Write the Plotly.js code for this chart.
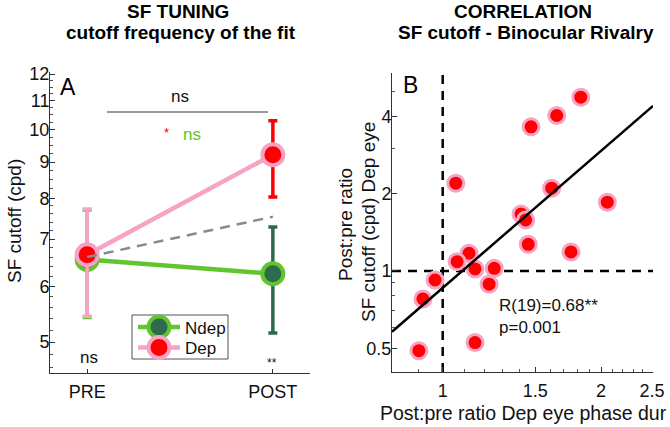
<!DOCTYPE html>
<html>
<head>
<meta charset="utf-8">
<script src="https://cdn.plot.ly/plotly-3.0.1.min.js"></script>
<style>html,body{margin:0;padding:0;background:#fff;}#chart{width:670px;height:427px;}</style>
</head>
<body>
<div id="chart"></div>
<script>
// ---------- DATA ----------
const conditions = ['PRE', 'POST'];
const condPos = [1, 2];
const depMean = [6.65, 9.22];
const depUpper = [7.72, 10.3];
const depLower = [5.44, 8.03];
const ndepMean = [6.55, 6.25];
const ndepUpper = [7.70, 7.28];
const ndepLower = [5.42, 5.15];
const predicted = [6.6, 7.53];

const leftYTicks = [5, 6, 7, 8, 9, 10, 11, 12];

const ratioPhaseDur = [1.83, 1.647, 1.472, 1.059, 1.611, 2.055, 1.409, 1.438, 1.454, 1.753,
                       1.122, 1.065, 1.152, 1.253, 0.967, 1.225, 0.917, 0.901, 1.152];
const ratioCutoff =   [4.75, 4.03, 3.64, 2.196, 2.10, 1.852, 1.667, 1.58, 1.27, 1.186,
                       1.172, 1.087, 1.018, 1.024, 0.922, 0.888, 0.778, 0.489, 0.526];
const fitX = [0.801, 2.51];
const fitY = [0.58, 4.39];
const rightXTicks = [1, 1.5, 2, 2.5];
const rightYTicks = [0.5, 1, 2, 4];
const legendNames = ['Ndep', 'Dep'];

// ---------- HELPERS ----------
const W = 670, H = 427;
const px = x => x / W;
const py = y => 1 - y / H;
const FONT = 'Liberation Sans, Arial, Helvetica, sans-serif';
const PINK = '#f6a3c6', RED = '#ff0000', GREEN = '#62c42e', DKGREEN = '#2e6a4d';

function minorRange(a, b, step) {
  const out = [];
  for (let v = a; v <= b + 1e-9; v += step) out.push(+v.toFixed(3));
  return out;
}
const leftMinor = minorRange(4.6, 8, 0.2).concat(minorRange(8.25, 11.75, 0.25)).filter(v => !leftYTicks.includes(v));
const rightXMinor = [0.9].concat(minorRange(1.1, 2.4, 0.1)).filter(v => !rightXTicks.some(t => Math.abs(t - v) < 1e-6));
const rightYMinor = [0.6, 0.7, 0.8, 0.9, 3, 5];

function errTrace(i, mean, up, lo, color) {
  return {
    x: [condPos[i]], y: [mean[i]], type: 'scatter', mode: 'markers',
    marker: {size: 1, opacity: 0}, showlegend: false, hoverinfo: 'skip',
    xaxis: 'x', yaxis: 'y',
    error_y: {type: 'data', symmetric: false, array: [up[i] - mean[i]], arrayminus: [mean[i] - lo[i]],
              color: color, thickness: 3.5, width: 4.5}
  };
}

const traces = [
  errTrace(0, ndepMean, ndepUpper, ndepLower, GREEN),
  errTrace(1, ndepMean, ndepUpper, ndepLower, DKGREEN),
  {
    x: condPos, y: ndepMean, type: 'scatter', mode: 'lines+markers', name: legendNames[0],
    line: {color: GREEN, width: 4.5}, showlegend: false,
    marker: {size: 21, color: DKGREEN, line: {color: GREEN, width: 4}},
    xaxis: 'x', yaxis: 'y'
  },
  errTrace(0, depMean, depUpper, depLower, PINK),
  errTrace(1, depMean, depUpper, depLower, RED),
  {
    x: condPos, y: depMean, type: 'scatter', mode: 'lines+markers', name: legendNames[1],
    line: {color: PINK, width: 4.5}, showlegend: false,
    marker: {size: 21, color: RED, line: {color: PINK, width: 4}},
    xaxis: 'x', yaxis: 'y'
  },
  {
    x: condPos, y: predicted, type: 'scatter', mode: 'lines', showlegend: false,
    line: {color: '#8a8a8a', width: 2.5, dash: '10px,7px'}, xaxis: 'x', yaxis: 'y'
  },
  // right panel
  {
    x: [1, 1], y: [0.404, 5.9], type: 'scatter', mode: 'lines', showlegend: false,
    line: {color: '#000', width: 2.5, dash: '9px,7px'}, xaxis: 'x2', yaxis: 'y2'
  },
  {
    x: [0.801, 2.51], y: [1, 1], type: 'scatter', mode: 'lines', showlegend: false,
    line: {color: '#000', width: 2.5, dash: '9px,7px'}, xaxis: 'x2', yaxis: 'y2'
  },
  {
    x: ratioPhaseDur, y: ratioCutoff, type: 'scatter', mode: 'markers', showlegend: false,
    marker: {size: 16, color: RED, line: {color: PINK, width: 3}}, xaxis: 'x2', yaxis: 'y2'
  },
  {
    x: fitX, y: fitY, type: 'scatter', mode: 'lines', showlegend: false,
    line: {color: '#000', width: 2.5}, xaxis: 'x2', yaxis: 'y2'
  }
];

const axCommon = {
  showline: true, linecolor: '#333', linewidth: 1, ticks: 'inside', ticklen: 5,
  tickcolor: '#333', tickwidth: 1, showgrid: false, zeroline: false,
  tickfont: {family: FONT, size: 18, color: '#111'}
};

function ann(text, x, y, opts) {
  return Object.assign({
    text: text, xref: 'paper', yref: 'paper', x: px(x), y: py(y),
    showarrow: false, xanchor: 'center', yanchor: 'middle',
    font: {family: FONT, size: 17, color: '#111'}
  }, opts || {});
}

// manual legend (box, line swatches, markers, labels)
const legendShapes = [
  {type: 'rect', xref: 'paper', yref: 'paper', x0: px(132), x1: px(228), y0: py(359), y1: py(315),
   fillcolor: '#fff', line: {color: '#555', width: 1}, layer: 'above'},
  {type: 'line', xref: 'paper', yref: 'paper', x0: px(138), x1: px(180), y0: py(327), y1: py(327),
   line: {color: GREEN, width: 4.5}, layer: 'above'},
  {type: 'circle', xref: 'paper', yref: 'paper', x0: px(148.5), x1: px(169.5), y0: py(337.5), y1: py(316.5),
   fillcolor: DKGREEN, line: {color: GREEN, width: 4}, layer: 'above'},
  {type: 'line', xref: 'paper', yref: 'paper', x0: px(138), x1: px(180), y0: py(347.5), y1: py(347.5),
   line: {color: PINK, width: 4.5}, layer: 'above'},
  {type: 'circle', xref: 'paper', yref: 'paper', x0: px(148.5), x1: px(169.5), y0: py(358), y1: py(337),
   fillcolor: RED, line: {color: PINK, width: 4}, layer: 'above'}
];

const layout = {
  width: W, height: H, margin: {l: 0, r: 0, t: 0, b: 0},
  paper_bgcolor: '#fff', plot_bgcolor: 'rgba(0,0,0,0)',
  showlegend: false,
  xaxis: Object.assign({}, axCommon, {
    domain: [px(50), px(310)], range: [0.8, 2.2], anchor: 'y',
    tickmode: 'array', tickvals: condPos, ticktext: conditions, ticklen: 4, ticklabelstandoff: 2
  }),
  yaxis: Object.assign({}, axCommon, {
    domain: [py(373), py(72)], type: 'log', anchor: 'x',
    range: [Math.log10(4.52), Math.log10(12.08)], ticklabelstandoff: -4,
    tickmode: 'array', tickvals: leftYTicks, ticktext: leftYTicks.map(String),
    minor: {tickmode: 'array', tickvals: leftMinor, ticklen: 3, ticks: 'inside', tickcolor: '#555'}
  }),
  xaxis2: Object.assign({}, axCommon, {
    domain: [px(392), px(653)], type: 'log', anchor: 'y2',
    range: [Math.log10(0.801), Math.log10(2.51)], ticklabelstandoff: 2,
    tickmode: 'array', tickvals: rightXTicks, ticktext: rightXTicks.map(String),
    minor: {tickmode: 'array', tickvals: rightXMinor, ticklen: 3, ticks: 'inside', tickcolor: '#555'}
  }),
  yaxis2: Object.assign({}, axCommon, {
    domain: [py(372), py(73)], type: 'log', anchor: 'x2',
    range: [Math.log10(0.404), Math.log10(5.9)], ticklabelstandoff: -4,
    tickmode: 'array', tickvals: rightYTicks, ticktext: rightYTicks.map(String),
    minor: {tickmode: 'array', tickvals: rightYMinor, ticklen: 3, ticks: 'inside', tickcolor: '#555'}
  }),
  shapes: [
    {type: 'line', xref: 'paper', yref: 'paper', x0: px(107), x1: px(268), y0: py(112), y1: py(112),
     line: {color: '#333', width: 1}}
  ].concat(legendShapes),
  annotations: [
    ann('<b>SF TUNING</b>', 178, 11, {font: {family: FONT, size: 19, color: '#000'}}),
    ann('<b>cutoff frequency of the fit</b>', 181, 33, {font: {family: FONT, size: 19, color: '#000'}}),
    ann('<b>CORRELATION</b>', 523, 11, {font: {family: FONT, size: 19, color: '#000'}}),
    ann('<b>SF cutoff - Binocular Rivalry</b>', 526, 33, {font: {family: FONT, size: 19, color: '#000'}}),
    ann('SF cutoff (cpd)', 14, 221, {textangle: -90, font: {family: FONT, size: 19, color: '#111'}}),
    ann('Post:pre ratio', 345, 225, {textangle: -90, font: {family: FONT, size: 19, color: '#111'}}),
    ann('SF cutoff (cpd) Dep eye', 368, 222, {textangle: -90, font: {family: FONT, size: 19, color: '#111'}}),
    ann('Post:pre ratio Dep eye phase dur', 523, 413, {font: {family: FONT, size: 19.5, color: '#111'}}),
    ann('A', 68, 87, {font: {family: FONT, size: 23, color: '#000'}}),
    ann('B', 410, 85, {font: {family: FONT, size: 23, color: '#000'}}),
    ann('ns', 180, 96),
    ann('*', 166, 132, {font: {family: FONT, size: 13, color: RED}}),
    ann('ns', 192, 134, {font: {family: FONT, size: 17, color: GREEN}}),
    ann('ns', 89, 357),
    ann('**', 272, 363, {font: {family: FONT, size: 12, color: '#111'}}),
    ann('R(19)=0.68**', 497, 305, {xanchor: 'left'}),
    ann('p=0.001', 497, 327, {xanchor: 'left'}),
    ann(legendNames[0], 183, 328, {xanchor: 'left', font: {family: FONT, size: 17, color: '#111'}}),
    ann(legendNames[1], 183, 348.5, {xanchor: 'left', font: {family: FONT, size: 17, color: '#111'}})
  ]
};

Plotly.newPlot('chart', traces, layout, {displayModeBar: false, staticPlot: true});
</script>
</body>
</html>
